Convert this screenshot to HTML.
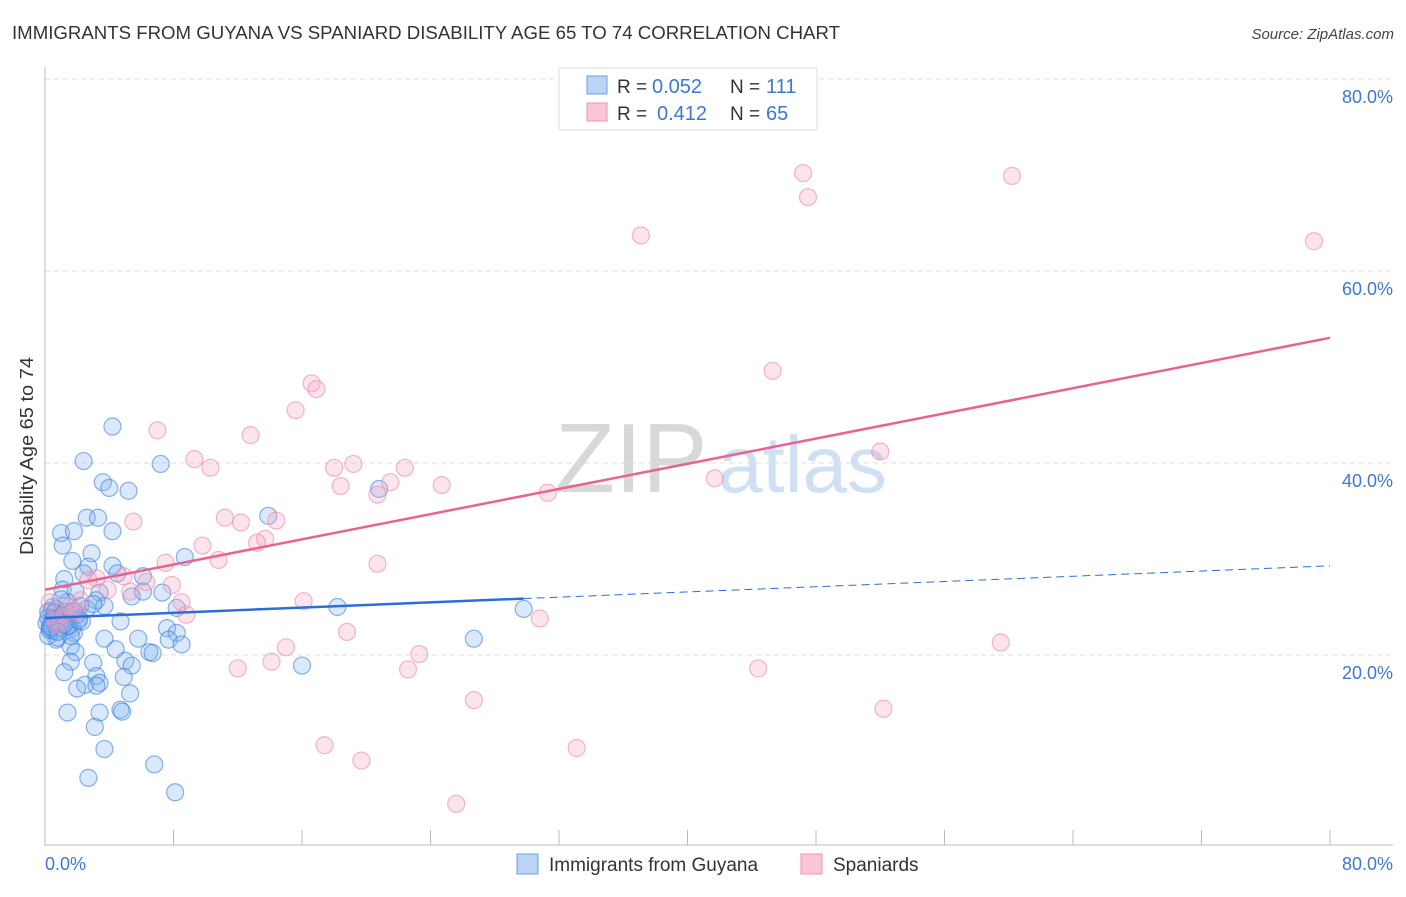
<!DOCTYPE html>
<html><head><meta charset="utf-8"><style>
body{margin:0;background:#fff;font-family:"Liberation Sans",sans-serif;}
svg text{font-family:"Liberation Sans",sans-serif;}
</style></head><body>
<svg id="chart" width="1406" height="892" viewBox="0 0 1406 892" xmlns="http://www.w3.org/2000/svg">
<text x="12" y="39" font-size="18" fill="#333" textLength="828" lengthAdjust="spacingAndGlyphs">IMMIGRANTS FROM GUYANA VS SPANIARD DISABILITY AGE 65 TO 74 CORRELATION CHART</text>
<text x="1394" y="39" font-size="15" fill="#444" text-anchor="end" font-style="italic">Source: ZipAtlas.com</text>
<g>
<text x="555" y="492" font-size="98" fill="#d8d8d8" font-family="Liberation Serif,serif">ZIP</text>
<text x="718" y="492" font-size="80" fill="#cfe0f4">atlas</text>
</g>
<g id="grid"></g>
<g id="axes"></g>
<g id="pts"></g>
<g id="trends"></g>
<text transform="translate(33,456) rotate(-90)" font-size="18" fill="#333" text-anchor="middle" textLength="198" lengthAdjust="spacingAndGlyphs">Disability Age 65 to 74</text>
<text x="45" y="870" font-size="18" fill="#3a78d4">0.0%</text>
<text x="1393" y="870" font-size="18" fill="#3a78d4" text-anchor="end">80.0%</text>
<g>
<rect x="559" y="68" width="258" height="62" fill="#fff" stroke="#ddd"/>
<rect x="587" y="76" width="20" height="18" fill="#b9d4f5" stroke="#6a9fe0"/>
<rect x="587" y="103" width="20" height="18" fill="#f9c6d6" stroke="#ee93b1"/>
<text x="617" y="93" font-size="19" fill="#333">R =</text>
<text x="652" y="93" font-size="20" fill="#3a78d4">0.052</text>
<text x="730" y="93" font-size="19" fill="#333">N =</text>
<text x="766" y="93" font-size="20" fill="#3a78d4">111</text>
<text x="617" y="120" font-size="19" fill="#333">R =</text>
<text x="657" y="120" font-size="20" fill="#3a78d4">0.412</text>
<text x="730" y="120" font-size="19" fill="#333">N =</text>
<text x="766" y="120" font-size="20" fill="#3a78d4">65</text>
</g>
<g>
<rect x="517" y="854" width="21" height="20" fill="#b9d4f5" stroke="#6a9fe0"/>
<text x="549" y="871" font-size="19" fill="#333">Immigrants from Guyana</text>
<rect x="801" y="854" width="21" height="20" fill="#f9c6d6" stroke="#ee93b1"/>
<text x="833" y="871" font-size="19" fill="#333">Spaniards</text>
</g>
</svg>
<script>
const yTicks=[20,40,60,80];
const xTicks=[0,8,16,24,32,40,48,56,64,72,80];
const blueX=[4.2,2.4,7.2,3.6,4.0,5.2,20.8,2.6,3.3,13.9,1.0,1.8,4.2,1.1,2.9,8.7,1.7,2.7,4.2,1.2,4.5,6.1,2.4,1.1,1.9,3.4,5.4,7.3,6.1,1.4,2.2,3.2,3.7,8.2,18.2,29.8,0.4,0.8,1.2,1.7,2.1,4.7,7.6,8.2,0.3,0.7,1.8,3.7,5.8,7.7,8.5,26.7,1.6,1.9,4.4,6.5,6.7,1.6,3.0,5.0,5.4,16.0,1.2,3.2,4.9,2.5,3.4,2.0,3.2,5.3,1.4,3.4,4.7,4.8,3.1,3.7,6.8,2.7,8.1,0.2,0.5,0.3,0.6,0.9,1.0,1.3,0.4,0.7,1.5,2.3,2.6,0.2,1.0,0.8,1.6,2.0,3.0,0.1,0.5,1.1,0.3,0.9,1.4,0.6,0.2,1.2,0.4,0.8,1.8,2.1];
const blueY=[43.8,40.2,39.9,38.0,37.4,37.1,37.3,34.3,34.3,34.5,32.7,32.9,32.9,31.4,30.6,30.2,29.8,29.2,29.3,27.9,28.5,28.2,28.5,26.8,26.6,26.5,26.1,26.5,26.6,25.5,25.1,25.7,25.1,24.9,25.0,24.8,24.6,23.8,23.2,22.8,23.8,23.5,22.8,22.3,22.8,21.6,22.3,21.7,21.7,21.6,21.1,21.7,20.9,20.3,20.6,20.3,20.2,19.3,19.2,19.4,18.9,18.9,18.2,17.8,17.7,16.9,17.1,16.5,16.8,16.0,14.0,14.0,14.3,14.1,12.5,10.2,8.6,7.2,5.7,24.5,25.0,23.0,22.5,24.0,22.8,24.5,23.5,24.8,23.0,23.5,24.8,22.0,25.8,21.8,22.0,24.2,25.3,23.3,23.8,24.1,22.6,23.4,23.0,24.4,23.9,23.2,22.9,22.4,24.6,23.6];
const pinkX=[47.2,47.5,60.2,37.1,79.0,16.6,16.9,45.3,15.6,7.0,12.8,9.3,19.2,10.3,18.0,22.4,52.0,21.5,18.4,24.7,20.7,31.3,41.7,5.5,11.2,12.2,14.4,13.7,13.2,9.8,10.8,7.5,20.7,3.2,4.9,6.3,7.9,3.9,5.3,2.7,8.5,16.1,8.8,30.8,18.8,0.3,1.2,2.2,0.6,15.0,59.5,23.3,14.1,12.0,22.6,44.4,26.7,52.2,17.4,33.1,19.7,25.6,1.5,2.0,0.9];
const pinkY=[70.2,67.7,69.9,63.7,63.1,48.3,47.7,49.6,45.5,43.4,42.9,40.4,39.9,39.5,39.5,39.5,41.2,38.0,37.6,37.7,36.7,36.9,38.4,33.9,34.3,33.8,34.0,32.1,31.7,31.4,29.9,29.6,29.5,28.0,28.2,27.6,27.3,26.8,26.6,27.8,25.5,25.6,24.2,23.8,22.4,25.5,24.2,25.7,23.6,20.8,21.3,20.1,19.3,18.6,18.5,18.6,15.3,14.4,10.6,10.3,9.0,4.5,25.0,24.5,23.2];
const blueTrend=[23.85,0.068,29.8];   // intercept, slope, solid-end x
const pinkTrend=[26.8,0.328];
const X=v=>45+v*(1330-45)/80;
const Y=v=>847-v*9.6;
const NS="http://www.w3.org/2000/svg";
function mk(tag,attrs,parent){const e=document.createElementNS(NS,tag);for(const k in attrs)e.setAttribute(k,attrs[k]);parent.appendChild(e);return e;}
const grid=document.getElementById('grid'),axes=document.getElementById('axes');
yTicks.forEach(t=>{
 const l=mk('line',{x1:45,x2:1393,y1:Y(t),y2:Y(t),stroke:'#ddd','stroke-dasharray':'5,4'},grid);
 
 
 const tx=mk('text',{x:1393,y:Y(t)+24,'font-size':18,fill:'#3a78d4','text-anchor':'end'},axes);
 tx.textContent=t.toFixed(1)+'%';
 
 
});
mk('line',{x1:45,x2:45,y1:67,y2:846,stroke:'#bbb'},axes);
mk('line',{x1:45,x2:1393,y1:845,y2:845,stroke:'#bbb'},axes);
xTicks.forEach(t=>{
 const l=mk('line',{x1:X(t),x2:X(t),y1:830,y2:845,stroke:'#bbb'},axes);
 
 
});
const pts=document.getElementById('pts');
blueX.forEach((x,i)=>{
 const c=mk('circle',{cx:X(x),cy:Y(blueY[i]),r:8.5,fill:'rgba(130,178,238,0.3)',stroke:'rgba(60,128,220,0.6)','stroke-width':1.2},pts);
 
 
});
pinkX.forEach((x,i)=>{
 const c=mk('circle',{cx:X(x),cy:Y(pinkY[i]),r:8.5,fill:'rgba(245,165,195,0.3)',stroke:'rgba(235,135,170,0.6)','stroke-width':1.2},pts);
 
 
});
const tr=document.getElementById('trends');
const bl=v=>blueTrend[0]+blueTrend[1]*v, pl=v=>pinkTrend[0]+pinkTrend[1]*v;
const b1=mk('line',{x1:X(0),y1:Y(bl(0)),x2:X(blueTrend[2]),y2:Y(bl(blueTrend[2])),stroke:'#2a6fd6','stroke-width':2.5},tr);


const b2=mk('line',{x1:X(blueTrend[2]),y1:Y(bl(blueTrend[2])),x2:X(80),y2:Y(bl(80)),stroke:'#2a6fd6','stroke-width':1,'stroke-dasharray':'8,5'},tr);


const p1=mk('line',{x1:X(0),y1:Y(pl(0)),x2:X(80),y2:Y(pl(80)),stroke:'#e8638f','stroke-width':2.5},tr);


</script>
</body></html>
